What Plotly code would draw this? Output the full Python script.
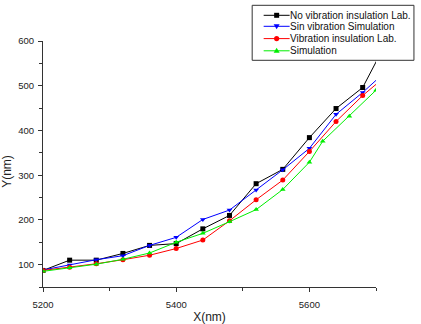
import plotly.graph_objects as go

x_main = [5200, 5240, 5280, 5320, 5360, 5400, 5440, 5480, 5520, 5560, 5600, 5640, 5680, 5720]
no_vib_lab = [87, 110, 110, 125, 143, 147, 180, 210, 281, 313, 384, 449, 496, 610]
sin_vib_sim = [88, 99, 111, 120, 143, 161, 201, 222, 267, 312, 360, 436, 485, 539]
vib_ins_lab = [87, 94, 102, 111, 121, 136, 155, 198, 245, 289, 353, 420, 478, 528]
x_sim = [5200, 5240, 5280, 5320, 5360, 5400, 5440, 5480, 5520, 5560, 5600, 5620, 5660, 5700]
simulation = [85, 93, 101, 112, 126, 150, 170, 196, 223, 268, 329, 376, 432, 490]

names = ["No vibration insulation Lab.", "Sin vibration Simulation",
         "Vibration insulation Lab.", "Simulation"]
colors = ["#000000", "#0000ff", "#ff0000", "#00ee00"]
symbols = ["square", "triangle-down", "circle", "triangle-up"]

FONT = "Arial, 'Liberation Sans', sans-serif"
W, H = 421, 324
L, R, T, B = 43, 44.5, 40.7, 37.3
PW, PH = W - L - R, H - T - B


def px(xv):
    return (xv - L) / PW


def py(yv):
    return (H - B - yv) / PH


fig = go.Figure()
for xs, ys, nm, col, sym in zip([x_main, x_main, x_main, x_sim],
                                [no_vib_lab, sin_vib_sim, vib_ins_lab, simulation],
                                names, colors, symbols):
    fig.add_trace(go.Scatter(
        x=xs, y=ys, name=nm, mode="lines+markers",
        line=dict(color=col, width=1),
        marker=dict(color=col, symbol=sym, size=5),
        showlegend=False,
    ))

# Compact legend (Origin style) drawn in paper coordinates
lg_left, lg_right, lg_top, lg_bottom = 252.5, 414.5, 5, 60
row_y = [15, 26, 38.3, 50.5]
seg_x0, seg_x1, txt_x = 264, 290, 290
fig.add_shape(type="rect", xref="paper", yref="paper",
              x0=px(lg_left), x1=px(lg_right), y0=py(lg_bottom), y1=py(lg_top),
              line=dict(color="#333", width=1), fillcolor="white", layer="above")
for nm, col, sym, ry in zip(names, colors, symbols, row_y):
    cx = (seg_x0 + seg_x1) / 2
    fig.add_shape(type="line", xref="paper", yref="paper",
                  x0=px(seg_x0), x1=px(seg_x1), y0=py(ry), y1=py(ry),
                  line=dict(color=col, width=1), layer="above")
    if sym == "square":
        fig.add_shape(type="rect", xref="paper", yref="paper",
                      x0=px(cx - 2.5), x1=px(cx + 2.5), y0=py(ry + 2.5), y1=py(ry - 2.5),
                      line=dict(color=col, width=0), fillcolor=col, layer="above")
    elif sym == "circle":
        fig.add_shape(type="circle", xref="paper", yref="paper",
                      x0=px(cx - 2.6), x1=px(cx + 2.6), y0=py(ry + 2.6), y1=py(ry - 2.6),
                      line=dict(color=col, width=0), fillcolor=col, layer="above")
    else:
        s = 1 if sym == "triangle-up" else -1
        pts = [(cx, ry - 3 * s), (cx - 3, ry + 2 * s), (cx + 3, ry + 2 * s)]
        path = "M {:.5f},{:.5f} L {:.5f},{:.5f} L {:.5f},{:.5f} Z".format(
            px(pts[0][0]), py(pts[0][1]), px(pts[1][0]), py(pts[1][1]),
            px(pts[2][0]), py(pts[2][1]))
        fig.add_shape(type="path", xref="paper", yref="paper", path=path,
                      line=dict(color=col, width=0), fillcolor=col, layer="above")
    fig.add_annotation(x=px(txt_x), y=py(ry), xref="paper", yref="paper", text=nm,
                       showarrow=False, xanchor="left", yanchor="middle",
                       xshift=-2,
                       font=dict(size=10, family=FONT, color="#111"))

# Y axis title placed like the reference
fig.add_annotation(x=px(7.5), y=py(171), xref="paper", yref="paper", text="Y(nm)",
                   showarrow=False, textangle=-90, xanchor="center", yanchor="middle",
                   font=dict(size=12, family=FONT, color="#222"))

fig.update_layout(
    width=W, height=H,
    margin=dict(l=L, r=R, t=T, b=B, autoexpand=False),
    paper_bgcolor="white", plot_bgcolor="white",
    font=dict(family=FONT, size=9.5, color="#222"),
    showlegend=False,
    xaxis=dict(
        range=[5200, 5700], tick0=5200, dtick=200,
        showline=True, linecolor="#333", linewidth=1,
        ticks="outside", ticklen=4, tickcolor="#333",
        minor=dict(dtick=100, ticks="outside", ticklen=3, tickcolor="#333"),
        showgrid=False, zeroline=False, ticklabelstandoff=5,
        title=dict(text="X(nm)", font=dict(size=12, family=FONT, color="#222"), standoff=10),
        tickfont=dict(size=9.5),
    ),
    yaxis=dict(
        range=[50, 600], tick0=0, dtick=100,
        showline=True, linecolor="#333", linewidth=1,
        ticks="outside", ticklen=4, tickcolor="#333",
        minor=dict(dtick=50, ticks="outside", ticklen=3, tickcolor="#333"),
        showgrid=False, zeroline=False, ticklabelstandoff=2,
        tickfont=dict(size=9.5),
    ),
)

fig.write_html("out.html")
